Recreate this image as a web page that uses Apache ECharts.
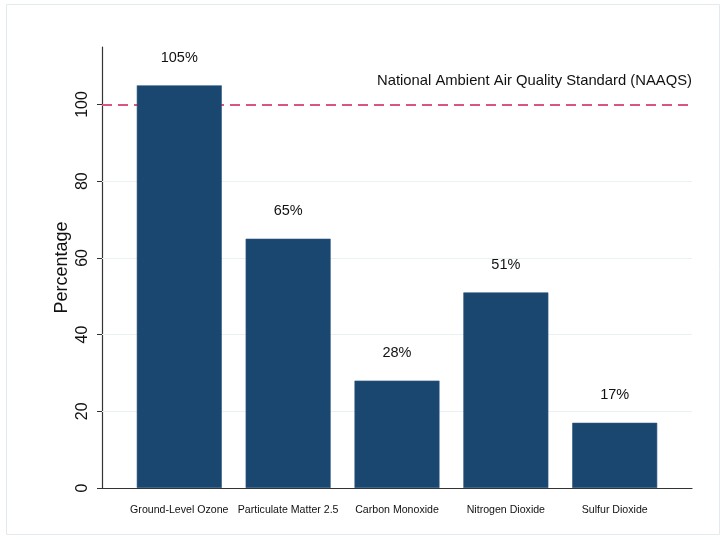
<!DOCTYPE html>
<html>
<head>
<meta charset="utf-8">
<script src="https://cdn.jsdelivr.net/npm/echarts@6/dist/echarts.min.js"></script>
<style>
  html, body { margin: 0; padding: 0; background: #fff; }
  #chart { width: 725px; height: 536px; }
</style>
</head>
<body>
<div id="chart"></div>
<script>
// Pollutant levels as a share of the national standard
const categories = ['Ground-Level Ozone', 'Particulate Matter 2.5', 'Carbon Monoxide', 'Nitrogen Dioxide', 'Sulfur Dioxide'];
const percentages = [105, 65, 28, 51, 17];
const yTicks = [0, 20, 40, 60, 80, 100];
const gridValues = [20, 40, 60, 80];
const standardValue = 100;
const standardLabel = 'National Ambient Air Quality Standard (NAAQS)';
const yTitle = 'Percentage';

const positions = categories.map((_, i) => i + 1);
const xMin = 0.29, xMax = 5.71;

const chart = echarts.init(document.getElementById('chart'), null, { renderer: 'canvas' });

chart.setOption({
  backgroundColor: '#ffffff',
  animation: false,
  textStyle: { fontFamily: 'Liberation Sans, Arial, sans-serif' },
  graphic: [{
    type: 'rect',
    shape: { x: 6.5, y: 4.5, width: 713, height: 530 },
    style: { fill: 'none', stroke: '#e3eaee', lineWidth: 1 },
    silent: true, z: 0
  }],
  grid: { left: 102, right: 33, top: 47, bottom: 48, containLabel: false },
  xAxis: {
    type: 'value',
    min: xMin,
    max: xMax,
    axisLine: { show: true, onZero: false, lineStyle: { color: '#333', width: 1.2 } },
    axisTick: { show: false },
    splitLine: { show: false },
    axisLabel: {
      customValues: positions,
      formatter: v => categories[Math.round(v) - 1] || '',
      fontSize: 10.6,
      color: '#111',
      margin: 17
    }
  },
  yAxis: {
    type: 'value',
    min: 0,
    max: 115,
    name: yTitle,
    nameLocation: 'middle',
    nameGap: 31,
    nameMoveOverlap: false,
    nameTextStyle: { fontSize: 18, color: '#111' },
    axisLine: { show: true, lineStyle: { color: '#333', width: 1.2 } },
    axisTick: { show: true, customValues: yTicks, length: 5, lineStyle: { color: '#333' } },
    axisLabel: { customValues: yTicks, rotate: 90, fontSize: 16, color: '#111', margin: 11 },
    splitLine: { show: false }
  },
  series: [
    {
      // reference lines behind the bars: light gridlines and the dashed standard line
      type: 'line',
      data: [],
      z: 1,
      silent: true,
      markLine: {
        z: 1,
        silent: true,
        symbol: 'none',
        animation: false,
        data: gridValues.map(v => ({
          yAxis: v,
          lineStyle: { color: '#eaf1f3', width: 1, type: 'solid' },
          label: { show: false }
        })).concat([{
          yAxis: standardValue,
          lineStyle: { color: '#da5580', width: 2, type: [10, 6] },
          label: {
            show: true,
            formatter: standardLabel,
            position: 'insideEndTop',
            distance: [0, 16],
            fontSize: 14.8,
            color: '#111'
          }
        }])
      }
    },
    {
      type: 'bar',
      z: 3,
      barWidth: 85,
      data: positions.map((p, i) => [p, percentages[i]]),
      itemStyle: { color: '#1a476f', borderColor: '#2b5680', borderWidth: 0.6 },
      label: {
        show: true,
        position: 'top',
        distance: 20,
        fontSize: 14.5,
        color: '#111',
        formatter: p => p.value[1] + '%'
      }
    }
  ]
});
</script>
</body>
</html>
